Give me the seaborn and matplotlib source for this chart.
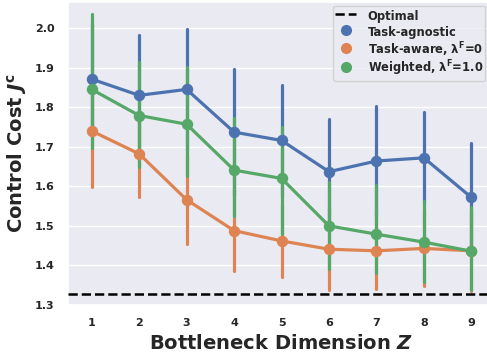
import numpy as np
import pandas as pd
import matplotlib
matplotlib.use("Agg")
import matplotlib.pyplot as plt
from matplotlib.lines import Line2D
import seaborn as sns

# ---- data ----
dims = [1, 2, 3, 4, 5, 6, 7, 8, 9]
series_names = ["Task-agnostic", "Task-aware", "Weighted"]

agnostic_mean = [1.871, 1.830, 1.845, 1.737, 1.716, 1.637, 1.664, 1.672, 1.572]
agnostic_lo = [1.730, 1.678, 1.692, 1.578, 1.576, 1.504, 1.524, 1.557, 1.436]
agnostic_hi = [2.010, 1.982, 1.998, 1.896, 1.856, 1.771, 1.804, 1.787, 1.709]

aware_mean = [1.740, 1.682, 1.566, 1.488, 1.462, 1.441, 1.437, 1.443, 1.437]
aware_lo = [1.598, 1.573, 1.453, 1.385, 1.370, 1.337, 1.341, 1.347, 1.336]
aware_hi = [1.882, 1.791, 1.679, 1.591, 1.554, 1.545, 1.533, 1.539, 1.537]

weighted_mean = [1.845, 1.779, 1.757, 1.641, 1.620, 1.500, 1.479, 1.459, 1.436]
weighted_lo = [1.697, 1.648, 1.625, 1.524, 1.480, 1.390, 1.380, 1.357, 1.338]
weighted_hi = [2.035, 1.914, 1.902, 1.772, 1.750, 1.612, 1.603, 1.564, 1.548]

optimal_cost = 1.329

legend_labels = ["Optimal", "Task-agnostic",
                 r"Task-aware, λ$^{\mathbf{F}}$=0",
                 r"Weighted, λ$^{\mathbf{F}}$=1.0"]

# ---- long table: three samples per point so that min/max = bar ends, mean = point ----
rows = []
for name, m, lo, hi in [("Task-agnostic", agnostic_mean, agnostic_lo, agnostic_hi),
                        ("Task-aware", aware_mean, aware_lo, aware_hi),
                        ("Weighted", weighted_mean, weighted_lo, weighted_hi)]:
    for z, mm, l, h in zip(dims, m, lo, hi):
        for v in (l, h, 3 * mm - l - h):
            rows.append({"Z": z, "method": name, "cost": v})
df = pd.DataFrame(rows)

sns.set_theme(style="darkgrid")
plt.rcParams["font.family"] = ["DejaVu Sans"]
plt.rcParams["font.weight"] = "bold"
plt.rcParams["axes.labelweight"] = "bold"

fig = plt.figure(figsize=(4.87, 3.54), dpi=100)
ax = fig.add_axes([0.1396, 0.1384, 0.877, 0.856])

palette = sns.color_palette("deep")[:3]
sns.pointplot(data=df, x="Z", y="cost", hue="method", hue_order=series_names,
              palette=palette, estimator="mean", errorbar=("pi", 100),
              markersize=6.5, linewidth=2.3, ax=ax, legend=False)

# error bars beneath the joined lines
for ln in ax.lines:
    if len(ln.get_xdata()) == 2:
        ln.set_zorder(1.8)
        ln.set_linewidth(2.3)

ax.axhline(optimal_cost, color="black", linestyle="--", linewidth=1.8, zorder=3)

ax.set_ylim(1.3, 2.066)
ax.set_yticks([1.3, 1.4, 1.5, 1.6, 1.7, 1.8, 1.9, 2.0])
ax.set_xlabel(r"Bottleneck Dimension $\mathbfit{Z}$", fontsize=14, fontweight="bold")
ax.set_ylabel(r"Control Cost $\mathbfit{J}^{\mathbf{c}}$", fontsize=14, fontweight="bold")
ax.tick_params(labelsize=8)
for lab in ax.get_xticklabels() + ax.get_yticklabels():
    lab.set_fontweight("bold")

handles = [Line2D([], [], color="black", linestyle="--", linewidth=1.8)]
for c in palette:
    handles.append(Line2D([], [], marker="o", linestyle="", color=c, markersize=7))
leg = ax.legend(handles, legend_labels, loc="upper left",
                bbox_to_anchor=(0.6206, 0.987), borderaxespad=0.0,
                prop={"weight": "bold", "size": 8.3},
                handleheight=1.75, labelspacing=0.0,
                handlelength=1.8, handletextpad=1.0, borderpad=0.2)

fig.savefig("out.png", dpi=100)
